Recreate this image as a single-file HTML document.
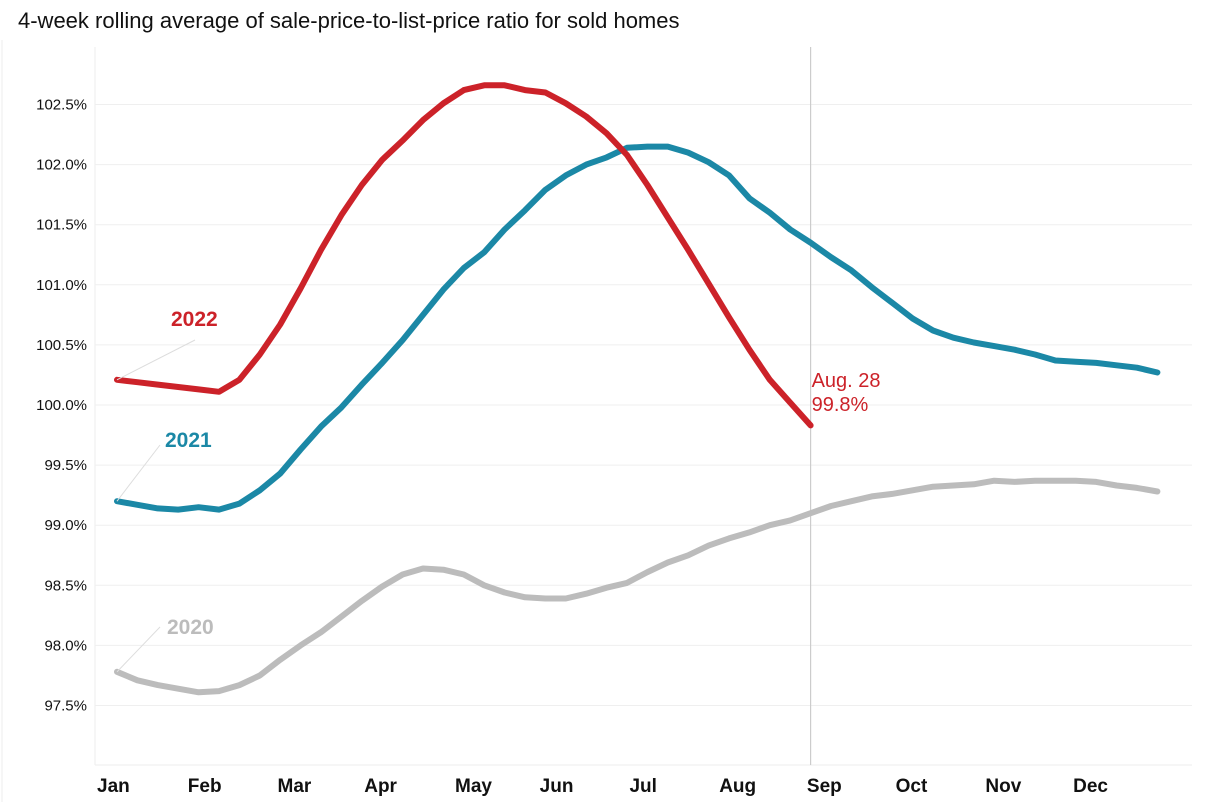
<!DOCTYPE html>
<html><head><meta charset="utf-8"><style>
html,body{margin:0;padding:0;background:#fff;}
#wrap{position:relative;width:1222px;height:802px;overflow:hidden;font-family:"Liberation Sans",sans-serif;}
#title{position:absolute;left:18px;top:8px;font-size:22px;color:#111;}
svg{position:absolute;left:0;top:0;}
</style></head><body>
<div id="wrap">
<div id="title">4-week rolling average of sale-price-to-list-price ratio for sold homes</div>
<svg id="chart" width="1222" height="802"></svg>
</div>
<script>
const yTicks=[97.5,98.0,98.5,99.0,99.5,100.0,100.5,101.0,101.5,102.0,102.5];
const monthLabels=["Jan","Feb","Mar","Apr","May","Jun","Jul","Aug","Sep","Oct","Nov","Dec"];
const monthWeeks=[0,4.45,8.85,13.1,17.55,21.7,26.1,30.5,34.8,39.15,43.55,47.85];
const s2020=[97.78,97.71,97.67,97.64,97.61,97.62,97.67,97.75,97.88,98.00,98.11,98.24,98.37,98.49,98.59,98.64,98.63,98.59,98.50,98.44,98.40,98.39,98.39,98.43,98.48,98.52,98.61,98.69,98.75,98.83,98.89,98.94,99.00,99.04,99.10,99.16,99.20,99.24,99.26,99.29,99.32,99.33,99.34,99.37,99.36,99.37,99.37,99.37,99.36,99.33,99.31,99.28];
const s2021=[99.20,99.17,99.14,99.13,99.15,99.13,99.18,99.29,99.43,99.63,99.82,99.98,100.17,100.35,100.54,100.75,100.96,101.14,101.27,101.46,101.62,101.79,101.91,102.00,102.06,102.14,102.15,102.15,102.10,102.02,101.91,101.72,101.60,101.46,101.35,101.23,101.12,100.98,100.85,100.72,100.62,100.56,100.52,100.49,100.46,100.42,100.37,100.36,100.35,100.33,100.31,100.27];
const s2022=[100.21,100.19,100.17,100.15,100.13,100.11,100.21,100.42,100.67,100.97,101.29,101.58,101.83,102.04,102.20,102.37,102.51,102.62,102.66,102.66,102.62,102.60,102.51,102.40,102.26,102.08,101.83,101.56,101.29,101.01,100.73,100.46,100.21,100.02,99.83];
const seriesNames=["2020","2021","2022"];
const seriesColors=["#bcbcbc","#1b88a6","#cc2229"];

const X0=117, STEP=20.4, PL=95, PR=1192, PT=47, PB=765;
const xS=w=>X0+w*STEP;
const yS=v=>405-(v-100)*120.2;
const svg=document.getElementById('chart');
const NS="http://www.w3.org/2000/svg";
function mk(tag,attrs,parent){const e=document.createElementNS(NS,tag);for(const k in attrs)e.setAttribute(k,attrs[k]);(parent||svg).appendChild(e);return e;}

let fr=mk('line',{x1:PL,y1:PT,x2:PL,y2:PB,stroke:'#eee','stroke-width':1});


let fr2=mk('line',{x1:PL,y1:PB,x2:PR,y2:PB,stroke:'#eee','stroke-width':1});


let fr3=mk('line',{x1:2,y1:40,x2:2,y2:802,stroke:'#eee','stroke-width':1});



yTicks.forEach(t=>{
  const y=yS(t);
  const g=mk('line',{x1:PL,y1:y,x2:PR,y2:y,stroke:'#efefef','stroke-width':1});
  
  
  const tx=mk('text',{x:87,y:y+5,'text-anchor':'end','font-size':15,fill:'#111'});
  tx.textContent=t.toFixed(1)+'%';
  
  
});
monthLabels.forEach((m,i)=>{
  const tx=mk('text',{x:xS(monthWeeks[i])-20,y:792,'text-anchor':'start','font-size':19,'font-weight':'bold',fill:'#111'});
  tx.textContent=m;
  
  
});

const lastX=xS(s2022.length-1);
const vl=mk('line',{x1:lastX,y1:PT,x2:lastX,y2:PB,stroke:'#ccc','stroke-width':1.2});



[s2020,s2021,s2022].forEach((s,i)=>{
  const d=s.map((v,k)=>(k?'L':'M')+xS(k).toFixed(1)+' '+yS(v).toFixed(1)).join(' ');
  const p=mk('path',{d:d,fill:'none',stroke:seriesColors[i],'stroke-width':6,'stroke-linejoin':'round','stroke-linecap':'round'});
  
  
});

const lbls=[{s:s2020,lx:160,ly:627,tx:167,ty:634},{s:s2021,lx:160,ly:445,tx:165,ty:447},{s:s2022,lx:195,ly:340,tx:171,ty:326}];
lbls.forEach((o,i)=>{
  const l=mk('line',{x1:xS(0),y1:yS(o.s[0]),x2:o.lx,y2:o.ly,stroke:'#ddd','stroke-width':1});
  
  
  const t=mk('text',{x:o.tx,y:o.ty,'font-size':21,'font-weight':'bold',fill:seriesColors[i]});
  t.textContent=seriesNames[i];
  
  
});

const last=s2022[s2022.length-1];
const a1=mk('text',{x:lastX+1,y:387,'font-size':20,fill:'#cc2229'});
a1.textContent='Aug. 28';


const a2=mk('text',{x:lastX+1,y:411,'font-size':20,fill:'#cc2229'});
a2.textContent=last.toFixed(1)+'%';


</script>
</body></html>
